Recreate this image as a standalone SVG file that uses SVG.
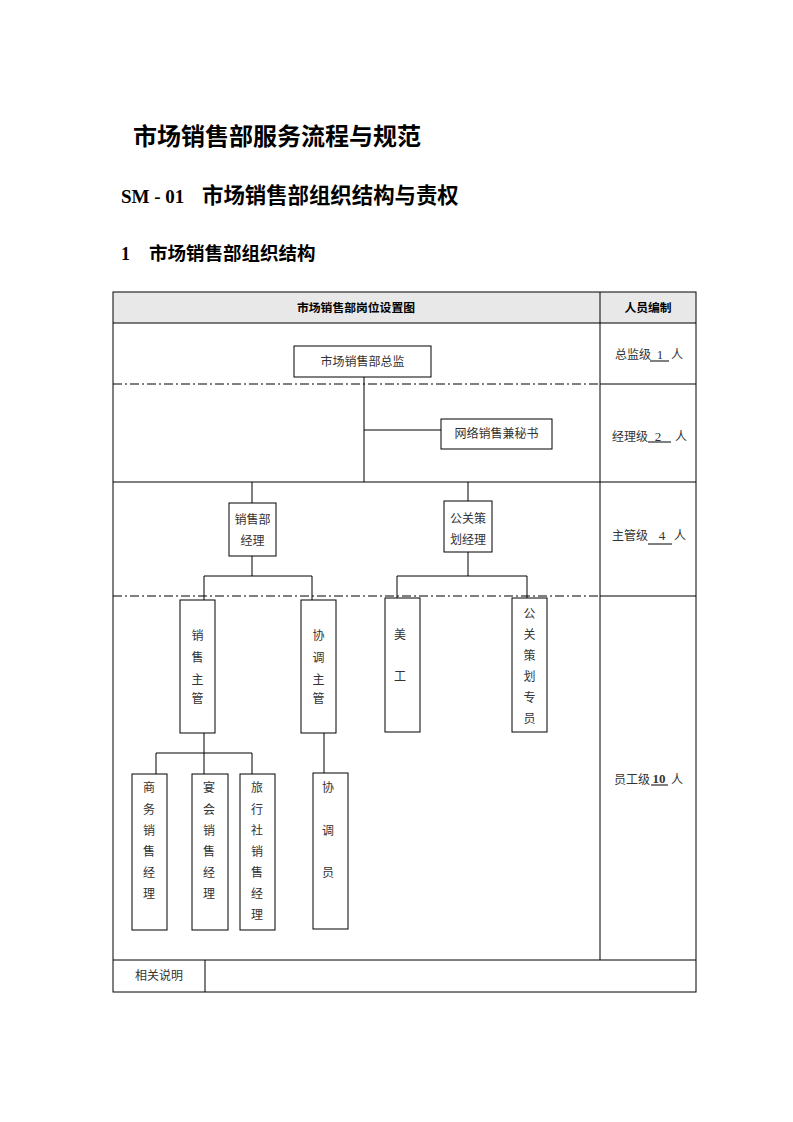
<svg xmlns="http://www.w3.org/2000/svg" width="793" height="1122" viewBox="0 0 793 1122">
<style>
.t{font-family:"Noto Sans CJK SC","Liberation Serif",sans-serif;font-size:12px;fill:#333;}
.c{text-anchor:middle;}
.b{font-family:"Noto Sans CJK SC","Liberation Sans",sans-serif;font-weight:bold;fill:#000;}
.n{font-family:"Liberation Serif",serif;font-size:13px;fill:#333;text-anchor:middle;}
.box{fill:#fff;stroke:#000;stroke-width:1;}
.ln{stroke:#000;stroke-width:1;fill:none;}
.dd{stroke:#000;stroke-width:1;fill:none;stroke-dasharray:9 3 2 3;}
</style>
<rect width="793" height="1122" fill="#fff"/>
<g id="titles">
<text class="b" x="133" y="145" font-size="24">市场销售部服务流程与规范</text>
<text x="121" y="203" font-family="Liberation Serif,serif" font-weight="bold" font-size="19">SM - 01</text>
<text class="b" x="202" y="203" font-size="21.4">市场销售部组织结构与责权</text>
<text x="121" y="260" font-family="Liberation Serif,serif" font-weight="bold" font-size="18">1</text>
<text class="b" x="149" y="260" font-size="18.5">市场销售部组织结构</text>
</g>
<g id="table">
<rect x="113" y="292" width="583" height="31" fill="#e8e8e8"/>
<rect x="113" y="292" width="583" height="700" class="ln"/>
<line class="ln" x1="113" y1="323" x2="696" y2="323"/>
<line class="ln" x1="600" y1="292" x2="600" y2="960"/>
<line class="dd" x1="113" y1="384" x2="600" y2="384"/>
<line class="ln" x1="600" y1="384" x2="696" y2="384"/>
<line class="ln" x1="113" y1="482" x2="696" y2="482"/>
<line class="dd" x1="113" y1="596" x2="600" y2="596"/>
<line class="ln" x1="600" y1="596" x2="696" y2="596"/>
<line class="ln" x1="113" y1="960" x2="696" y2="960"/>
<line class="ln" x1="205" y1="960" x2="205" y2="992"/>
<text class="b c" x="356" y="312" font-size="11.8">市场销售部岗位设置图</text>
<text class="b c" x="648" y="312" font-size="11.8">人员编制</text>
<text class="t" x="615" y="359">总监级</text>
<text class="n" x="660" y="359">1</text>
<line class="ln" x1="650" y1="361" x2="669" y2="361"/>
<text class="t" x="671" y="359">人</text>
<text class="t" x="612" y="441">经理级</text>
<text class="n" x="658" y="441">2</text>
<line class="ln" x1="648" y1="442" x2="671" y2="442"/>
<text class="t" x="675" y="441">人</text>
<text class="t" x="612" y="540">主管级</text>
<text class="n" x="662" y="540">4</text>
<line class="ln" x1="648" y1="544" x2="672" y2="544"/>
<text class="t" x="674" y="540">人</text>
<text class="t" x="614" y="784">员工级</text>
<text class="n" x="659" y="783" font-weight="bold">10</text>
<line class="ln" x1="651" y1="785" x2="668" y2="785"/>
<text class="t" x="671" y="784">人</text>
<text class="t c" x="159" y="980">相关说明</text>
</g>
<g id="connectors">
<line class="ln" x1="364" y1="377" x2="364" y2="482"/>
<line class="ln" x1="364" y1="430" x2="441" y2="430"/>
<line class="ln" x1="252" y1="482" x2="252" y2="503"/>
<line class="ln" x1="468" y1="482" x2="468" y2="501"/>
<line class="ln" x1="252" y1="556" x2="252" y2="576"/>
<polyline class="ln" points="204,600 204,576 312,576 312,600"/>
<line class="ln" x1="468" y1="552" x2="468" y2="576"/>
<polyline class="ln" points="397,598 397,576 527,576 527,598"/>
<line class="ln" x1="204" y1="733" x2="204" y2="774"/>
<polyline class="ln" points="156,774 156,753 252,753 252,774"/>
<line class="ln" x1="324" y1="733" x2="324" y2="773"/>
</g>
<g id="n-director">
<rect class="box" x="294" y="346" width="137" height="31"/>
<text class="t c" x="362.5" y="366">市场销售部总监</text>
</g>
<g id="n-secretary">
<rect class="box" x="441" y="419" width="111" height="30"/>
<text class="t c" x="496.5" y="438">网络销售兼秘书</text>
</g>
<g id="n-sales-manager">
<rect class="box" x="229" y="503" width="47" height="53"/>
<text class="t c" x="252.5" y="524">销售部</text>
<text class="t c" x="252.5" y="545">经理</text>
</g>
<g id="n-pr-manager">
<rect class="box" x="444" y="501" width="48" height="51"/>
<text class="t c" x="468" y="523">公关策</text>
<text class="t c" x="468" y="544">划经理</text>
</g>
<g id="n-sales-supervisor">
<rect class="box" x="180" y="600" width="35" height="133"/>
<text class="t c" x="197.5" y="640">销</text>
<text class="t c" x="197.5" y="662">售</text>
<text class="t c" x="197.5" y="684">主</text>
<text class="t c" x="197.5" y="703">管</text>
</g>
<g id="n-coord-supervisor">
<rect class="box" x="301" y="600" width="35" height="133"/>
<text class="t c" x="318.5" y="640">协</text>
<text class="t c" x="318.5" y="662">调</text>
<text class="t c" x="318.5" y="684">主</text>
<text class="t c" x="318.5" y="703">管</text>
</g>
<g id="n-artist">
<rect class="box" x="385" y="598" width="35" height="134"/>
<text class="t c" x="400" y="639">美</text>
<text class="t c" x="400" y="681">工</text>
</g>
<g id="n-pr-specialist">
<rect class="box" x="512" y="598" width="35" height="134"/>
<text class="t c" x="529.5" y="618">公</text>
<text class="t c" x="529.5" y="639">关</text>
<text class="t c" x="529.5" y="660">策</text>
<text class="t c" x="529.5" y="681">划</text>
<text class="t c" x="529.5" y="702">专</text>
<text class="t c" x="529.5" y="723">员</text>
</g>
<g id="n-business-sales">
<rect class="box" x="132" y="774" width="35" height="156"/>
<text class="t c" x="149" y="792">商</text>
<text class="t c" x="149" y="814">务</text>
<text class="t c" x="149" y="835">销</text>
<text class="t c" x="149" y="856">售</text>
<text class="t c" x="149" y="877">经</text>
<text class="t c" x="149" y="898">理</text>
</g>
<g id="n-banquet-sales">
<rect class="box" x="192" y="774" width="36" height="156"/>
<text class="t c" x="209" y="792">宴</text>
<text class="t c" x="209" y="814">会</text>
<text class="t c" x="209" y="835">销</text>
<text class="t c" x="209" y="856">售</text>
<text class="t c" x="209" y="877">经</text>
<text class="t c" x="209" y="898">理</text>
</g>
<g id="n-travel-sales">
<rect class="box" x="240" y="774" width="35" height="156"/>
<text class="t c" x="257" y="792">旅</text>
<text class="t c" x="257" y="814">行</text>
<text class="t c" x="257" y="835">社</text>
<text class="t c" x="257" y="856">销</text>
<text class="t c" x="257" y="877">售</text>
<text class="t c" x="257" y="898">经</text>
<text class="t c" x="257" y="919">理</text>
</g>
<g id="n-coordinator">
<rect class="box" x="313" y="773" width="35" height="156"/>
<text class="t c" x="328" y="792">协</text>
<text class="t c" x="328" y="835">调</text>
<text class="t c" x="328" y="877">员</text>
</g>
</svg>
